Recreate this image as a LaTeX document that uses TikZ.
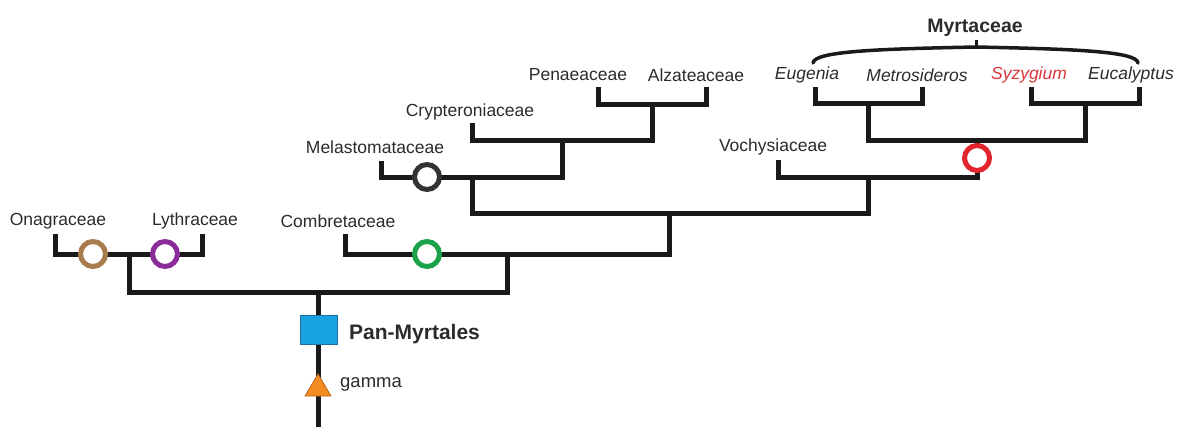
\documentclass[tikz,border=0pt]{standalone}
\usepackage{fontspec}
\setmainfont{Liberation Sans}
\definecolor{txt}{HTML}{2B2B2B}
\definecolor{lin}{HTML}{1A1A1A}
\definecolor{brownc}{HTML}{A97C4D}
\definecolor{purplec}{HTML}{8A2D9A}
\definecolor{greenc}{HTML}{1BA24B}
\definecolor{darkc}{HTML}{333333}
\definecolor{redc}{HTML}{E2242C}
\definecolor{syzc}{HTML}{D8363C}
\definecolor{bluec}{HTML}{1AA3E3}
\definecolor{blueb}{HTML}{1F6F9F}
\definecolor{orangec}{HTML}{F28B22}
\definecolor{orangeb}{HTML}{B8641A}
\tikzset{
  lab/.style={font=\fontsize{17.5}{20}\selectfont, text=txt, inner sep=0pt},
  itlab/.style={lab, font=\fontsize{17.5}{20}\selectfont\itshape},
  branch/.style={draw=lin, line width=5pt},
  ring/.style={circle, draw=#1, line width=5pt, fill=white, minimum size=25pt, inner sep=0pt},
}
\begin{document}
\begin{tikzpicture}[x=1pt,y=-1pt]
\useasboundingbox (0,0) rectangle (1180,436);
% labels
\node[lab] (lOna) at (58,221) {Onagraceae};
\node[lab] (lLyt) at (195,221) {Lythraceae};
\node[lab] (lCom) at (338,221) {Combretaceae};
\node[lab] (lMel) at (375,147) {Melastomataceae};
\node[lab] (lCry) at (470,112) {Crypteroniaceae};
\node[lab] (lPen) at (578,75) {Penaeaceae};
\node[lab] (lAlz) at (696,75) {Alzateaceae};
\node[lab] (lVoc) at (773,147) {Vochysiaceae};
\node[itlab] (lEug) at (807,75) {Eugenia};
\node[itlab] (lMet) at (917,75) {Metrosideros};
\node[itlab, text=syzc] (lSyz) at (1029,75) {Syzygium};
\node[itlab] (lEuc) at (1131,75) {Eucalyptus};
\node[lab, font=\fontsize{19.5}{22}\selectfont\bfseries] (lMyr) at (975,28) {Myrtaceae};
% tips
\coordinate (tOna) at (55,234);
\coordinate (tLyt) at (202,234);
\coordinate (tCom) at (345,234);
\coordinate (tMel) at (381,161);
\coordinate (tCry) at (472,123);
\coordinate (tPen) at (598,87);
\coordinate (tAlz) at (706,87);
\coordinate (tVoc) at (778,160);
\coordinate (tEug) at (815,87);
\coordinate (tMet) at (922,87);
\coordinate (tSyz) at (1031,87);
\coordinate (tEuc) at (1139,87);
% internal nodes
\coordinate (n1) at (129,254);
\coordinate (n2) at (507,254);
\coordinate (root) at (318,292);
\coordinate (base) at (318,427);
\coordinate (n3) at (669,213);
\coordinate (n4) at (472,177);
\coordinate (n5) at (562,140);
\coordinate (n6) at (652,104);
\coordinate (n7) at (868,177);
\coordinate (n8) at (977,140);
\coordinate (n9) at (868,103);
\coordinate (n10) at (1085,103);
% branches
\draw[branch] (tOna) |- (n1) -| (tLyt);
\draw[branch] (n1) |- (root) -| (n2);
\draw[branch] (tCom) |- (n2) -| (n3);
\draw[branch] (n4) |- (n3) -| (n7);
\draw[branch] (tMel) |- (n4) -| (n5);
\draw[branch] (tCry) |- (n5) -| (n6);
\draw[branch] (tPen) |- (n6) -| (tAlz);
\draw[branch] (tVoc) |- (n7) -| (n8);
\draw[branch] (n9) |- (n8) -| (n10);
\draw[branch] (tEug) |- (n9) -| (tMet);
\draw[branch] (tSyz) |- (n10) -| (tEuc);
\draw[branch] (root) -- (base);
% markers
\node[ring=brownc] (cOna) at (93,254) {};
\node[ring=purplec] (cLyt) at (165,254) {};
\node[ring=greenc] (cCom) at (427,254) {};
\node[ring=darkc] (cMel) at (427,177) {};
\node[ring=redc] (cMyr) at (977,158) {};
\node[draw=blueb, line width=0.8pt, fill=bluec, minimum width=37pt, minimum height=29pt, inner sep=0pt] (pm) at (318.5,329.5) {};
\node[lab, font=\fontsize{21}{24}\selectfont\bfseries, anchor=west] (lPM) at (349,334) {Pan-Myrtales};
\draw[draw=orangeb, line width=0.8pt, fill=orangec] (318,374) -- (331,396) -- (305,396) -- cycle;
\node[lab, font=\fontsize{18.5}{21}\selectfont, anchor=west] (lgam) at (340,384) {gamma};
% brace
\coordinate (bl) at (813,63);
\coordinate (bm) at (976,47);
\coordinate (bt) at (976,40);
\coordinate (br) at (1138,63);
\draw[draw=lin, line width=3.5pt, line cap=round] (bl) .. controls (814,51) and (880,49) .. (bm) .. controls (1070,49) and (1137,51) .. (br);
\draw[draw=lin, line width=3pt] (bm) -- (bt);
\end{tikzpicture}
\end{document}
